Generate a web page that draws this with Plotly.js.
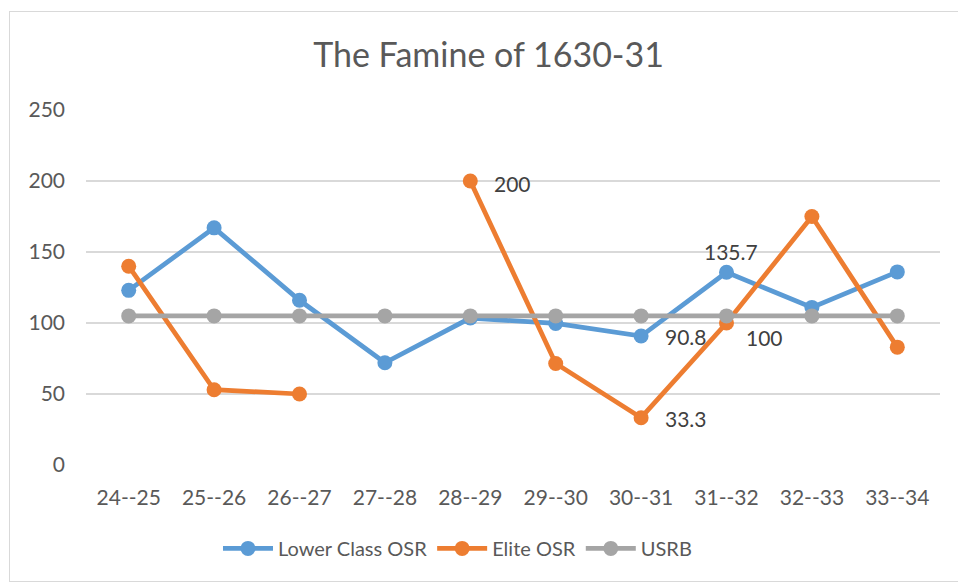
<!DOCTYPE html>
<html>
<head>
<meta charset="utf-8">
<script src="https://cdn.plot.ly/plotly-3.0.1.min.js"></script>
<style>
  html, body { margin: 0; padding: 0; background: #ffffff; }
  #frame { position: absolute; left: 9px; top: 11px; width: 960px; height: 569px; border: 1px solid #d9d9d9; }
  #chart { position: absolute; left: 0; top: 0; width: 958px; height: 582px; }
</style>
</head>
<body>
<div id="frame"></div>
<div id="chart"></div>
<script>
const categories = ["24--25", "25--26", "26--27", "27--28", "28--29", "29--30", "30--31", "31--32", "32--33", "33--34"];
const lowerClassOSR = [123, 167, 116, 72, 103.5, 99.7, 90.8, 135.7, 111, 136];
const eliteOSR = [140, 53, 50, null, 200, 71.5, 33.3, 100, 175, 83];
const usrb = [105, 105, 105, 105, 105, 105, 105, 105, 105, 105];
const lowerLabels = ["", "", "", "", "", "", "90.8", "135.7", "", ""];
const eliteLabels = ["", "", "", "", "200", "", "33.3", "100", "", ""];
const yTicks = [0, 50, 100, 150, 200, 250];

// label placement per point: [xanchor, xshift, yshift]
const lowerPlace = {6: ["left", 22, 0], 7: ["center", 4, 21]};
const elitePlace = {4: ["left", 22, -2], 6: ["left", 22, -1], 7: ["left", 17, -14]};

const labelFont = {family: "Lato, 'Open Sans', sans-serif", size: 21, color: "#404040"};

function makeLabels(values, labels, place) {
  const out = [];
  labels.forEach((t, i) => {
    if (!t) return;
    const p = place[i];
    out.push({
      x: categories[i], y: values[i], xref: "x", yref: "y", text: t, showarrow: false,
      xanchor: p[0], yanchor: "middle", xshift: p[1], yshift: p[2], font: labelFont
    });
  });
  return out;
}

const traces = [
  {
    x: categories, y: lowerClassOSR, name: "Lower Class OSR", type: "scatter", mode: "lines+markers",
    line: {color: "#5B9BD5", width: 4.75}, marker: {color: "#5B9BD5", size: 15},
    cliponaxis: false
  },
  {
    x: categories, y: eliteOSR, name: "Elite OSR", type: "scatter", mode: "lines+markers",
    line: {color: "#ED7D31", width: 4.75}, marker: {color: "#ED7D31", size: 15},
    connectgaps: false, cliponaxis: false
  },
  {
    x: categories, y: usrb, name: "USRB", type: "scatter", mode: "lines+markers",
    line: {color: "#A5A5A5", width: 4.75}, marker: {color: "#A5A5A5", size: 15},
    cliponaxis: false
  }
];

const layout = {
  width: 958, height: 582,
  paper_bgcolor: "rgba(0,0,0,0)", plot_bgcolor: "rgba(0,0,0,0)",
  margin: {l: 86, r: 18, t: 110, b: 117},
  font: {family: "Lato, 'Open Sans', sans-serif", color: "#595959", size: 21},
  title: {
    text: "The Famine of 1630-31",
    font: {family: "Lato, 'Open Sans', sans-serif", size: 34, color: "#595959"},
    x: 0.51, xanchor: "center", y: 0.905, yanchor: "middle"
  },
  xaxis: {
    type: "category", range: [-0.5, categories.length - 0.5], autorange: false,
    showgrid: false, zeroline: false, showline: false, ticks: "",
    tickfont: {size: 21, color: "#595959"}, ticklabelstandoff: 18, fixedrange: true, automargin: false
  },
  yaxis: {
    range: [0, 250], tickvals: yTicks, showgrid: true, gridcolor: "#d9d9d9", gridwidth: 1.5,
    zeroline: false, showline: false, ticks: "",
    tickfont: {size: 21, color: "#595959"}, ticklabelstandoff: 20, fixedrange: true, automargin: false
  },
  annotations: makeLabels(lowerClassOSR, lowerLabels, lowerPlace).concat(makeLabels(eliteOSR, eliteLabels, elitePlace)),
  showlegend: true,
  legend: {
    orientation: "h", x: 0.435, xanchor: "center", y: -0.235, yanchor: "middle",
    font: {size: 20, color: "#595959"}, traceorder: "normal", itemwidth: 50
  }
};

Plotly.newPlot("chart", traces, layout, {displayModeBar: false, staticPlot: true});
</script>
</body>
</html>
